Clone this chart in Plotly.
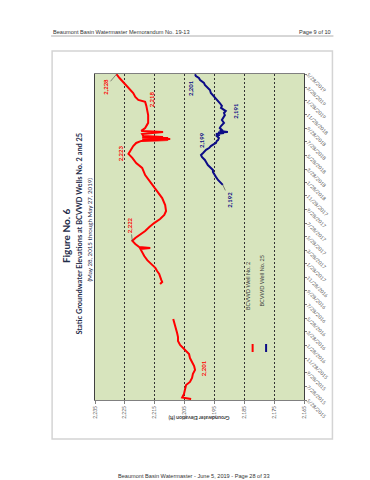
import plotly.graph_objects as go

# ---------------- data ----------------
red_dates = [
    "2015-06-01", "2015-06-08", "2015-06-24", "2015-07-16", "2015-08-03", "2015-08-17",
    "2015-09-04", "2015-09-22", "2015-10-10", "2015-10-27", "2015-11-14", "2015-12-02",
    "2015-12-20", "2016-01-03", "2016-01-16", "2016-01-30", "2016-02-16", "2016-03-05",
    "2016-03-23", "2016-04-10", "2016-04-28", "2016-05-12", "2016-05-25",
    "2016-08-01",
    "2016-10-29", "2016-11-07", "2016-11-16", "2016-11-29", "2016-12-13", "2016-12-26",
    "2017-01-09", "2017-01-27", "2017-02-13", "2017-03-03", "2017-03-21", "2017-04-04",
    "2017-04-08", "2017-04-13", "2017-04-26", "2017-05-10", "2017-05-23", "2017-06-06",
    "2017-06-23", "2017-07-11", "2017-07-29", "2017-08-16", "2017-09-03", "2017-09-21",
    "2017-10-18", "2017-11-18", "2017-12-20", "2018-01-25", "2018-03-01", "2018-04-02",
    "2018-04-24", "2018-05-17", "2018-06-04", "2018-06-17", "2018-07-09", "2018-07-23",
    "2018-08-01", "2018-08-05", "2018-08-08", "2018-08-10", "2018-08-12", "2018-08-14",
    "2018-08-17", "2018-08-19", "2018-08-23", "2018-09-01", "2018-09-10", "2018-09-15",
    "2018-09-28", "2018-10-21", "2018-11-25", "2019-01-05", "2019-01-23", "2019-02-01",
    "2019-02-14", "2019-03-04", "2019-03-26", "2019-04-18", "2019-05-10", "2019-05-27",
]
red_elev = [
    2202.8, 2205.8, 2205.2, 2204.8, 2204.5, 2203.2,
    2202.5, 2202.2, 2201.5, 2201.8, 2202.5, 2203.2,
    2203.5, 2204.5, 2205.5, 2206.5, 2207.2, 2207.2,
    2207.5, 2207.8, 2208.2, 2208.5, 2208.8,
    None,
    2213.2, 2212.5, 2212.8, 2213.2, 2213.5, 2214.2,
    2214.8, 2216.2, 2217.5, 2218.5, 2219.2, 2219.8,
    2216.5, 2220.2, 2221.5, 2222.5, 2221.5, 2219.8,
    2218.2, 2216.8, 2215.2, 2213.2, 2211.8, 2211.2,
    2211.5, 2212.5, 2214.2, 2216.2, 2218.2, 2219.2,
    2221.2, 2222.5, 2223.8, 2223.2, 2222.2, 2221.2,
    2219.5, 2210.5, 2219.2, 2209.8, 2218.8, 2210.5,
    2219.2, 2212.2, 2218.8, 2219.2, 2212.2, 2219.5,
    2218.2, 2217.2, 2217.2, 2217.8, 2218.2, 2220.5,
    2221.5, 2222.2, 2223.8, 2225.5, 2226.8, 2227.8,
]

blue_dates = [
    "2018-01-16", "2018-01-29", "2018-02-07", "2018-02-21", "2018-03-01", "2018-03-15",
    "2018-03-24", "2018-04-06", "2018-04-15", "2018-04-29", "2018-05-08", "2018-05-21",
    "2018-05-30", "2018-06-08", "2018-06-17", "2018-06-22", "2018-06-30", "2018-07-09",
    "2018-07-18", "2018-07-23", "2018-08-01", "2018-08-05", "2018-08-14", "2018-08-23",
    "2018-08-28", "2018-09-01", "2018-09-06", "2018-09-08", "2018-09-10", "2018-09-15",
    "2018-09-19", "2018-09-28", "2018-10-07", "2018-10-21", "2018-11-03", "2018-11-12",
    "2018-11-25", "2018-12-04", "2018-12-13", "2018-12-27", "2019-01-05", "2019-01-18",
    "2019-02-01", "2019-02-10", "2019-02-19", "2019-03-04", "2019-03-17", "2019-03-26",
    "2019-04-09", "2019-04-18", "2019-05-01", "2019-05-10", "2019-05-19", "2019-05-27",
]
blue_elev = [
    2192.2, 2193.2, 2193.8, 2194.5, 2194.8, 2195.5,
    2195.5, 2196.5, 2197.2, 2197.8, 2198.2, 2199.2,
    2199.5, 2198.8, 2198.2, 2197.8, 2196.8, 2196.2,
    2195.2, 2194.5, 2194.2, 2193.8, 2193.5, 2194.2,
    2193.2, 2194.5, 2191.8, 2193.8, 2190.5, 2193.2,
    2192.5, 2193.2, 2192.8, 2191.8, 2192.5, 2192.2,
    2191.5, 2191.8, 2191.2, 2192.8, 2192.5, 2193.2,
    2194.2, 2194.8, 2195.2, 2196.2, 2196.5, 2197.2,
    2198.2, 2198.5, 2199.8, 2200.2, 2201.2, 2201.5,
]

elev_ticks = [2165, 2175, 2185, 2195, 2205, 2215, 2225, 2235]
date_ticks = [
    "2015-05-28", "2015-07-28", "2015-09-28", "2015-11-28", "2016-01-28",
    "2016-03-28", "2016-05-28", "2016-07-28", "2016-09-28", "2016-11-28",
    "2017-01-28", "2017-03-28", "2017-05-28", "2017-07-28", "2017-09-28",
    "2017-11-28", "2018-01-28", "2018-03-28", "2018-05-28", "2018-07-28",
    "2018-09-28", "2018-11-28", "2019-01-28", "2019-03-28", "2019-05-28",
]

# value labels: (text, elevation, date) positions in data space
red_labels = [
    ("2,218", 2215.8, "2019-02-05"),
    ("2,223", 2226.2, "2018-06-08"),
    ("2,201", 2198.8, "2015-10-18"),
]
blue_labels = [
    ("2,201", 2203.2, "2019-03-26"),
    ("2,191", 2188.2, "2018-12-13"),
    ("2,199", 2199.5, "2018-08-05"),
]

# ---------------- layout geometry ----------------
W, H = 370, 480
PL, PR, PT, PB = 87, 296.5, 66, 392


def px_x(x):
    return (x - PL) / (PR - PL)


def px_y(y):
    return (PB - y) / (PB - PT)


RED = "#ff0000"
BLUE = "#0c0c86"
CHART_FONT = "Lato, Liberation Sans, Arial, sans-serif"
DOC_FONT = "Liberation Sans, Arial, sans-serif"
TITLE_COLOR = "#1f2d4a"

fig = go.Figure()
fig.add_trace(go.Scatter(x=red_elev, y=red_dates, mode="lines", name="BCVWD Well No. 2",
                         line=dict(color=RED, width=2), connectgaps=False))
fig.add_trace(go.Scatter(x=blue_elev, y=blue_dates, mode="lines", name="BCVWD Well No. 25",
                         line=dict(color=BLUE, width=2)))

ann = []
# header / footer
ann.append(dict(xref="paper", yref="paper", x=px_x(43), y=px_y(24), xanchor="left", yanchor="middle",
                text="Beaumont Basin Watermaster Memorandum No. 19-13", showarrow=False,
                font=dict(family=DOC_FONT, size=5.6, color="#333333")))
ann.append(dict(xref="paper", yref="paper", x=px_x(326), y=px_y(24), xanchor="right", yanchor="middle",
                text="Page 9 of 10", showarrow=False,
                font=dict(family=DOC_FONT, size=5.6, color="#333333")))
ann.append(dict(xref="paper", yref="paper", x=px_x(186), y=px_y(468), xanchor="center", yanchor="middle",
                text="Beaumont Basin Watermaster - June 5, 2019 - Page 28 of 33", showarrow=False,
                font=dict(family=DOC_FONT, size=5.6, color="#333333")))

# titles (rotated)
ann.append(dict(xref="paper", yref="paper", x=px_x(50), y=px_y(228), textangle=-90, showarrow=False,
                text="<b>Figure No. 6</b>", font=dict(family=CHART_FONT, size=10, color=TITLE_COLOR)))
ann.append(dict(xref="paper", yref="paper", x=px_x(64), y=px_y(226), textangle=-90, showarrow=False,
                text="<b>Static Groundwater Elevations at BCVWD Wells No. 2 and 25</b>",
                font=dict(family=CHART_FONT, size=7.4, color=TITLE_COLOR)))
ann.append(dict(xref="paper", yref="paper", x=px_x(75), y=px_y(222), textangle=-90, showarrow=False,
                text="(May 28, 2015 through May 27, 2019)",
                font=dict(family=CHART_FONT, size=6.2, color=TITLE_COLOR)))
# axis title (upside down)
ann.append(dict(xref="paper", yref="paper", x=px_x(191), y=px_y(415), textangle=180, showarrow=False,
                text="<b>Groundwater Elevation (ft)</b>",
                font=dict(family=CHART_FONT, size=5.2, color="#404040")))

# legend (rotated)
ann.append(dict(xref="paper", yref="paper", x=px_x(245), y=px_y(304), textangle=-90, showarrow=False,
                text="BCVWD Well No. 2", font=dict(family=CHART_FONT, size=5.6, color="#404040")))
ann.append(dict(xref="paper", yref="paper", x=px_x(258.5), y=px_y(301), textangle=-90, showarrow=False,
                text="BCVWD Well No. 25", font=dict(family=CHART_FONT, size=5.6, color="#404040")))

# value labels
lab_font = dict(family=CHART_FONT, size=6)
for t, xv, yv in red_labels:
    ann.append(dict(x=xv, y=yv, text="<b>%s</b>" % t, textangle=-90, showarrow=False,
                    font=dict(lab_font, color=RED)))
for t, xv, yv in blue_labels:
    ann.append(dict(x=xv, y=yv, text="<b>%s</b>" % t, textangle=-90, showarrow=False,
                    font=dict(lab_font, color=BLUE)))
# labels with leader lines, pointing at data points
ann.append(dict(x=red_elev[-1], y=red_dates[-1], ax=-11, ay=13, text="<b>2,228</b>", textangle=-90,
                showarrow=True, arrowhead=0, arrowwidth=0.6, arrowcolor="#404040",
                font=dict(lab_font, color=RED)))
i_min = red_dates.index("2017-05-10")
ann.append(dict(x=red_elev[i_min], y=red_dates[i_min], ax=-2, ay=-16, text="<b>2,222</b>", textangle=-90,
                showarrow=True, arrowhead=0, arrowwidth=0.6, arrowcolor="#404040",
                font=dict(lab_font, color=RED)))
ann.append(dict(x=blue_elev[0], y=blue_dates[0], ax=7, ay=15, text="<b>2,192</b>", textangle=-90,
                showarrow=True, arrowhead=0, arrowwidth=0.6, arrowcolor="#404040",
                font=dict(lab_font, color=BLUE)))

shapes = []
# page chart border
shapes.append(dict(type="rect", xref="paper", yref="paper", x0=px_x(44), x1=px_x(325),
                   y0=px_y(431), y1=px_y(43), line=dict(color="#d4d4d4", width=1.5), layer="below"))
# header rule
shapes.append(dict(type="line", xref="paper", yref="paper", x0=px_x(43), x1=px_x(326),
                   y0=px_y(28), y1=px_y(28), line=dict(color="#9a9a9a", width=0.8)))
# legend keys
shapes.append(dict(type="line", xref="paper", yref="paper", x0=px_x(245), x1=px_x(245),
                   y0=px_y(344), y1=px_y(336), line=dict(color=RED, width=2)))
shapes.append(dict(type="line", xref="paper", yref="paper", x0=px_x(258.5), x1=px_x(258.5),
                   y0=px_y(344), y1=px_y(336), line=dict(color=BLUE, width=2)))

fig.update_layout(
    width=W, height=H,
    margin=dict(l=PL, r=W - PR, t=PT, b=H - PB, autoexpand=False),
    paper_bgcolor="white", plot_bgcolor="#d7e4bd",
    showlegend=False,
    annotations=ann, shapes=shapes,
    xaxis=dict(range=[2235, 2165], tickvals=elev_ticks, tickformat=",d", tickangle=-90,
               tickfont=dict(family=CHART_FONT, size=5, color="#595959"),
               showgrid=True, gridcolor="#333333", griddash="2px,2px", gridwidth=0.7,
               showline=True, linecolor="#808080", linewidth=1, mirror=True,
               ticks="outside", ticklen=3, tickcolor="#808080", zeroline=False),
    yaxis=dict(type="date", range=["2015-05-28", "2019-05-28"], side="right",
               tickvals=date_ticks, tickformat="%-m/%-d/%Y", tickangle=45,
               tickfont=dict(family=CHART_FONT, size=5, color="#595959"),
               showgrid=False, showline=True, linecolor="#404040", linewidth=1, mirror=True,
               ticks="outside", ticklen=2, tickcolor="#808080", zeroline=False),
)

fig.write_html("out.html")
